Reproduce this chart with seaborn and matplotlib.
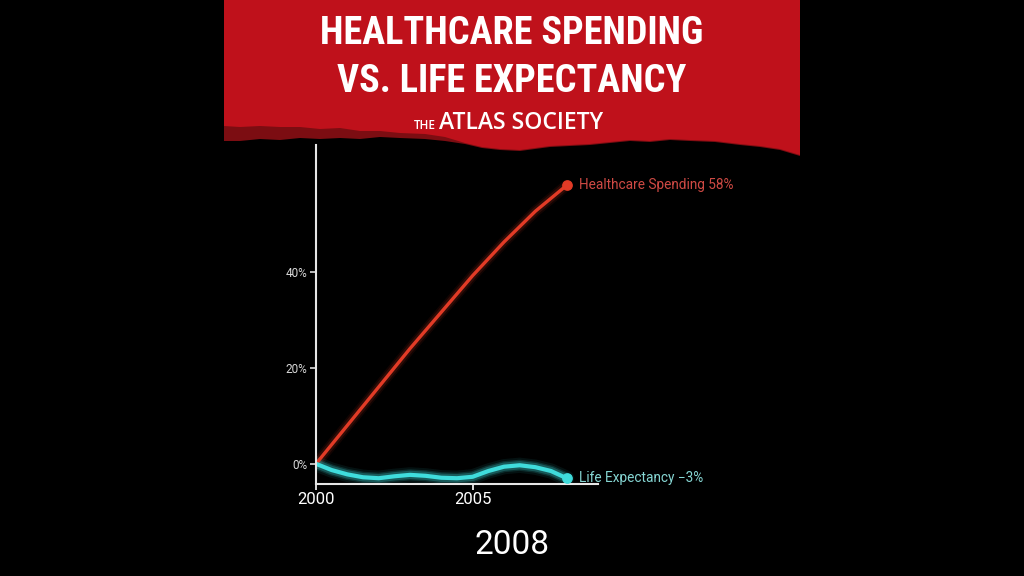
import matplotlib
matplotlib.use("Agg")
import numpy as np
import pandas as pd
import seaborn as sns
import matplotlib.pyplot as plt
from matplotlib.patches import Polygon
from matplotlib import font_manager as fm
import matplotlib.patheffects as pe

# ---------------- data ----------------
hc_years = [2000, 2001, 2002, 2003, 2004, 2005, 2006, 2007, 2008]
healthcare = [0, 8, 16, 24, 31.6, 39.2, 46.2, 52.6, 58]

le_years = [2000, 2000.5, 2001, 2001.5, 2002, 2002.5, 2003, 2003.5, 2004,
            2004.5, 2005, 2005.5, 2006, 2006.5, 2007, 2007.5, 2008]
life_exp = [0, -1.3, -2.2, -2.8, -3.0, -2.6, -2.3, -2.5, -2.9,
            -3.0, -2.7, -1.5, -0.6, -0.3, -0.7, -1.5, -3.0]

y_ticks = [0, 20, 40]
y_tick_labels = ["0%", "20%", "40%"]
x_ticks = [2000, 2005]
x_tick_labels = ["2000", "2005"]
hc_label = "Healthcare Spending 58%"
le_label = "Life Expectancy \u22123%"
current_year = "2008"
title_lines = ["HEALTHCARE SPENDING", "VS. LIFE EXPECTANCY"]

# ---------------- style ----------------
sns.set_theme(style="dark")
avail = {f.name for f in fm.fontManager.ttflist}
title_font = next((f for f in ["Liberation Sans Narrow", "DejaVu Sans Condensed",
                               "Roboto Condensed", "Liberation Sans"] if f in avail), "DejaVu Sans")
body_font = "Roboto" if "Roboto" in avail else "DejaVu Sans"
plt.rcParams["font.family"] = [body_font, "DejaVu Sans"]

W, H = 1024, 576
fig = plt.figure(figsize=(W / 100, H / 100), dpi=100, facecolor="black")

def fx(px):
    return px / W

def fy(py):
    return 1 - py / H

# banner (decoration)
black_edge = [(800, 156), (780, 150), (760, 147), (740, 145), (715, 142), (690, 141),
              (670, 140), (650, 142), (630, 141), (610, 143), (590, 145), (570, 146),
              (550, 147), (535, 149), (520, 151), (500, 150), (482, 148), (465, 144),
              (445, 141), (425, 139), (400, 138), (380, 137), (360, 139), (340, 138),
              (320, 139), (300, 138), (280, 140), (260, 139), (240, 141), (224, 141)]
dark = [(224, 0), (800, 0)] + black_edge
fig.add_artist(Polygon([(fx(x), fy(y)) for x, y in dark], closed=True,
                       transform=fig.transFigure, facecolor="#7c0d12", edgecolor="none"))
red_edge = [(p[0], p[1] - 1) for p in black_edge[:18]] + [
    (445, 137), (425, 134), (400, 133), (380, 131), (360, 131), (340, 128),
    (320, 129), (300, 127), (280, 127), (260, 126), (240, 127), (224, 126)]
bright = [(224, 0), (800, 0)] + red_edge
fig.add_artist(Polygon([(fx(x), fy(y)) for x, y in bright], closed=True,
                       transform=fig.transFigure, facecolor="#bf111b", edgecolor="none"))

shadow = [pe.withSimplePatchShadow(offset=(2, -2), shadow_rgbFace="black", alpha=0.3)]
for line, yc in zip(title_lines, [33, 81]):
    fig.text(0.5, fy(yc), line, ha="center", va="center", color="white",
             fontsize=27.5, fontweight="bold", family=[title_font, "DejaVu Sans"])

fig.text(fx(436), fy(129), "THE", ha="right", va="baseline", color="white",
         fontsize=8.5, family=["Open Sans", "DejaVu Sans"], fontweight="semibold")
fig.text(fx(439), fy(129), "ATLAS SOCIETY", ha="left", va="baseline", color="white",
         fontsize=16.5, family=["Open Sans", "DejaVu Sans"], fontweight="semibold")

# ---------------- chart ----------------
ax = fig.add_axes([fx(316), fy(483.5), fx(598) - fx(316), fy(145) - fy(483.5)])
ax.set_facecolor("black")

df_hc = pd.DataFrame({"year": hc_years, "value": healthcare})
df_le = pd.DataFrame({"year": le_years, "value": life_exp})

red = "#e23b26"
cyan = "#3fdcdc"
for df, col, glow in [(df_hc, red, [(8, 0.08), (5.5, 0.15)]),
                      (df_le, cyan, [(11, 0.08), (8, 0.15), (6, 0.25)])]:
    for lw, a in glow:
        ax.plot(df["year"], df["value"], color=col, lw=lw, alpha=a,
                solid_capstyle="round", solid_joinstyle="round")
sns.lineplot(data=df_hc, x="year", y="value", ax=ax, color=red, lw=2.4,
             solid_capstyle="round")
sns.lineplot(data=df_le, x="year", y="value", ax=ax, color=cyan, lw=3.0,
             solid_capstyle="round")
ax.scatter([hc_years[-1]], [healthcare[-1]], s=45, color=red, zorder=5)
ax.scatter([le_years[-1]], [life_exp[-1]], s=45, color=cyan, zorder=5)

ax.annotate(hc_label, (hc_years[-1], healthcare[-1]), xytext=(12, 0),
            textcoords="offset pixels", va="center", ha="left",
            color="#cf4a44", fontsize=9.8)
ax.annotate(le_label, (le_years[-1], life_exp[-1]), xytext=(12, 0),
            textcoords="offset pixels", va="center", ha="left",
            color="#86d6d3", fontsize=9.8)

ax.set_xlim(2000, 2009)
ax.set_ylim(-4.1, 66.4)
ax.set_xticks(x_ticks)
ax.set_xticklabels(x_tick_labels)
ax.set_yticks(y_ticks)
ax.set_yticklabels(y_tick_labels)
ax.set_xlabel("")
ax.set_ylabel("")
ax.grid(False)
for s in ["top", "right"]:
    ax.spines[s].set_visible(False)
for s in ["left", "bottom"]:
    ax.spines[s].set_visible(True)
    ax.spines[s].set_color("#e6e6e6")
    ax.spines[s].set_linewidth(1.5)
ax.tick_params(axis="x", colors="white", labelsize=12, length=4, width=1.2,
               direction="out", bottom=True, pad=2)
ax.tick_params(axis="y", colors="#dddddd", labelsize=8.5, length=4, width=1.2,
               direction="out", left=True, pad=2)
ax.tick_params(axis="x", labelcolor="white")
ax.tick_params(axis="y", labelcolor="#d8d8d8")

fig.text(fx(512), fy(545), current_year, ha="center", va="center", color="white",
         fontsize=24)

fig.savefig("out.png", dpi=100, facecolor="black")
